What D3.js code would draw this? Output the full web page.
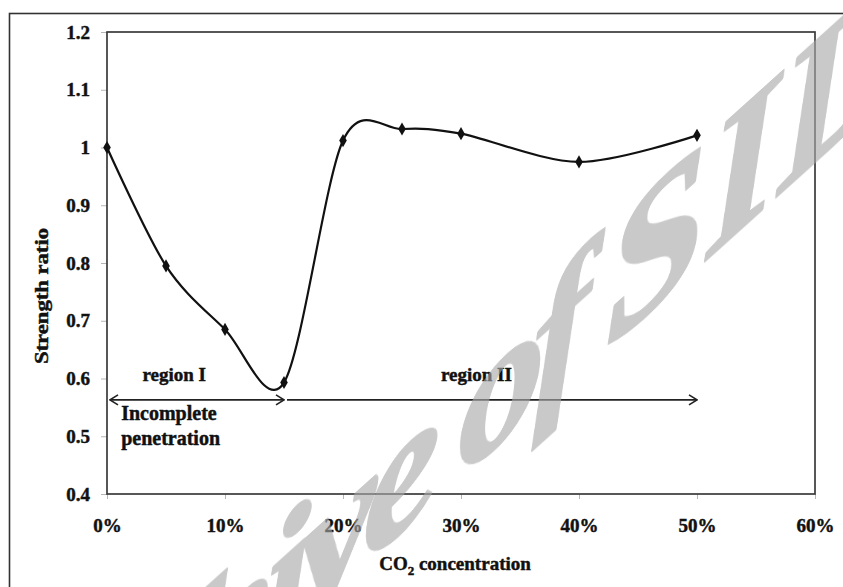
<!DOCTYPE html>
<html>
<head>
<meta charset="utf-8">
<script src="https://cdn.jsdelivr.net/npm/d3@7"></script>
<style>
  html, body { margin: 0; padding: 0; background: #fff; }
  svg { display: block; }
  text { font-family: "Liberation Serif", "Times New Roman", serif; }
</style>
</head>
<body>
<svg id="chart" width="843" height="587"></svg>
<script>
// ---- data ----
const co2Pct = [0, 5, 10, 15, 20, 25, 30, 40, 50];
const strengthRatio = [1.0, 0.795, 0.685, 0.593, 1.012, 1.032, 1.024, 0.975, 1.021];

const xTicks = [0, 10, 20, 30, 40, 50, 60];
const yTicks = [0.4, 0.5, 0.6, 0.7, 0.8, 0.9, 1.0, 1.1, 1.2];

// region arrows (x from / to in %, at ratio level)
const regionNames = ['region I', 'region II'];
const regionFrom = [0, 15];
const regionTo = [15, 50];
const regionLabelX = [5.7, 31.3];
const arrowLevel = 0.563;
const labelLevel = 0.596;

const noteLines = ['Incomplete', 'penetration'];
const noteLevels = [0.528, 0.485];

// watermark pieces
const wmWords = ['Archive of', 'SID'];

// ---- layout ----
const svg = d3.select('#chart');
const plotL = 107, plotR = 815, plotT = 32, plotB = 494;
const serif = '"Liberation Serif", "Times New Roman", serif';

const x = d3.scaleLinear().domain([0, 60]).range([plotL, plotR]);
const y = d3.scaleLinear().domain([0.4, 1.2]).range([plotB, plotT]);

// bold, slightly heavy text like the scanned figure
function heavy(sel, size) {
  return sel.style('font-family', serif)
    .style('font-weight', 'bold')
    .style('font-size', size + 'px')
    .attr('fill', '#111')
    .attr('stroke', '#111')
    .attr('stroke-width', 0.45);
}

// outer frame (cropped by the page edge)
svg.append('rect')
  .attr('x', 9.5).attr('y', 13.5)
  .attr('width', 900).attr('height', 700)
  .attr('fill', 'none')
  .attr('stroke', '#333')
  .attr('stroke-width', 1.6);

// axes
const yAxis = svg.append('g')
  .attr('transform', `translate(${plotL},0)`)
  .call(d3.axisLeft(y).tickValues(yTicks).tickSize(6).tickPadding(11)
    .tickFormat(d => String(+d.toFixed(1))));

const xAxis = svg.append('g')
  .attr('transform', `translate(0,${plotB})`)
  .call(d3.axisBottom(x).tickValues(xTicks).tickSize(5).tickPadding(20)
    .tickFormat(d => d + '%'));

[yAxis, xAxis].forEach(g => {
  g.select('.domain').remove();
  g.selectAll('.tick line').attr('stroke', '#b5b5b5');
  heavy(g.selectAll('.tick text'), 19);
});

// plot box
svg.append('rect')
  .attr('x', plotL).attr('y', plotT)
  .attr('width', plotR - plotL).attr('height', plotB - plotT)
  .attr('fill', 'none')
  .attr('stroke', '#3a3a3a')
  .attr('stroke-width', 1.7);

// axis titles
heavy(svg.append('text'), 18)
  .attr('transform', `translate(48,${(plotT + plotB) / 2 + 33}) rotate(-90)`)
  .attr('text-anchor', 'middle')
  .attr('textLength', 136)
  .attr('lengthAdjust', 'spacingAndGlyphs')
  .text('Strength  ratio');

const xt = heavy(svg.append('text'), 19)
  .attr('x', 455).attr('y', 570)
  .attr('text-anchor', 'middle');
xt.append('tspan').text('CO');
xt.append('tspan').attr('dy', 5).style('font-size', '13px').text('2');
xt.append('tspan').attr('dy', -5).text(' concentration');

// region arrows
const defs = svg.append('defs');
defs.append('marker')
  .attr('id', 'chev')
  .attr('viewBox', '0 0 10 12')
  .attr('refX', 9).attr('refY', 6)
  .attr('markerWidth', 10).attr('markerHeight', 12)
  .attr('markerUnits', 'userSpaceOnUse')
  .attr('orient', 'auto-start-reverse')
  .append('path')
  .attr('d', 'M1,1 L9,6 L1,11')
  .attr('fill', 'none')
  .attr('stroke', '#222')
  .attr('stroke-width', 1.6);

regionNames.forEach((name, i) => {
  const ln = svg.append('line')
    .attr('x1', x(regionFrom[i]) + 3).attr('x2', x(regionTo[i]))
    .attr('y1', y(arrowLevel)).attr('y2', y(arrowLevel))
    .attr('stroke', '#222')
    .attr('stroke-width', 1.6)
    .attr('marker-end', 'url(#chev)');
  if (i === 0) ln.attr('marker-start', 'url(#chev)');

  heavy(svg.append('text'), 19)
    .attr('x', x(regionLabelX[i])).attr('y', y(labelLevel))
    .attr('text-anchor', 'middle')
    .text(name);
});

noteLines.forEach((t, i) => {
  heavy(svg.append('text'), 20)
    .attr('x', x(1.2)).attr('y', y(noteLevels[i]))
    .text(t);
});

// data line (smoothed like the spreadsheet chart)
const pts = co2Pct.map((c, i) => [c, strengthRatio[i]]);
const line = d3.line()
  .x(d => x(d[0]))
  .y(d => y(d[1]))
  .curve(d3.curveCardinal.tension(0.08));

svg.append('path')
  .datum(pts)
  .attr('d', line)
  .attr('fill', 'none')
  .attr('stroke', '#111')
  .attr('stroke-width', 2.2);

svg.selectAll('.mark')
  .data(pts)
  .join('path')
  .attr('class', 'mark')
  .attr('transform', d => `translate(${x(d[0])},${y(d[1])})`)
  .attr('d', d3.symbol().type(d3.symbolDiamond).size(50))
  .attr('fill', '#111');

// watermark over everything
const wm = svg.append('g')
  .attr('opacity', 0.62)
  .attr('fill', '#a9a9a9')
  .attr('stroke', '#a9a9a9')
  .attr('stroke-width', 3)
  .attr('stroke-linejoin', 'round')
  .style('font-family', serif)
  .style('font-style', 'italic')
  .style('font-weight', 'bold');
wm.append('text')
  .attr('transform', 'translate(578,372) skewY(-42)')
  .attr('text-anchor', 'end')
  .attr('letter-spacing', -12)
  .style('font-size', '172px')
  .text(wmWords[0]);
wm.append('text')
  .attr('transform', 'translate(606,350) skewY(-42)')
  .style('font-size', '182px')
  .text(wmWords[1]);
</script>
</body>
</html>
